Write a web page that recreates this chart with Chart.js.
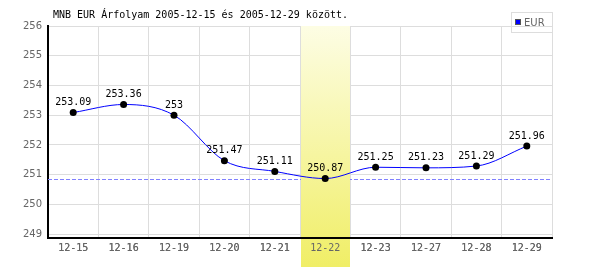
<!DOCTYPE html>
<html>
<head>
<meta charset="utf-8">
<script src="https://cdn.jsdelivr.net/npm/chart.js@4/dist/chart.umd.min.js"></script>
<style>
html,body{margin:0;padding:0;background:#fff;}
#wrap{width:600px;height:270px;}
</style>
</head>
<body>
<div id="wrap"><canvas id="c" width="600" height="270"></canvas></div>
<script>
const titleText = "MNB EUR Árfolyam 2005-12-15 és 2005-12-29 között.";
const seriesName = "EUR";
const categories = ["12-15","12-16","12-19","12-20","12-21","12-22","12-23","12-27","12-28","12-29"];
const eurValues = [253.09, 253.36, 253, 251.47, 251.11, 250.87, 251.25, 251.23, 251.29, 251.96];
const yTickValues = [249, 250, 251, 252, 253, 254, 255, 256];
const highlightCategory = "12-22";

const MONO = "'DejaVu Sans Mono', monospace";

const extras = {
  id: 'extras',
  beforeDatasetsDraw(chart) {
    const ctx = chart.ctx, a = chart.chartArea;
    const x = chart.scales.x, y = chart.scales.y;
    // dashed min line
    const minV = Math.min(...eurValues);
    const py = Math.round(y.getPixelForValue(minV)) + 0.5;
    ctx.save();
    ctx.strokeStyle = '#8080ff';
    ctx.lineWidth = 1;
    ctx.setLineDash([4, 2]);
    ctx.beginPath();
    ctx.moveTo(a.left, py);
    ctx.lineTo(a.right, py);
    ctx.stroke();
    ctx.restore();
    // highlight band
    const idx = categories.indexOf(highlightCategory);
    const step = (x.getPixelForValue(1) - x.getPixelForValue(0));
    const cx = x.getPixelForValue(idx);
    const l = Math.round(cx - step / 2) + 1, r = Math.round(cx + step / 2);
    const top = a.top, bottom = 267;
    ctx.save();
    const g = ctx.createLinearGradient(0, top, 0, bottom);
    g.addColorStop(0, '#fdfde4');
    g.addColorStop(1, '#f0ee66');
    ctx.fillStyle = g;
    ctx.fillRect(l, top, r - l, bottom - top);
    ctx.restore();
    // redraw x axis border and labels over band
    x.drawBorder();
    x.drawLabels(a);
  },
  afterDatasetsDraw(chart) {
    const ctx = chart.ctx;
    const meta = chart.getDatasetMeta(0);
    ctx.save();
    ctx.font = '10px ' + MONO;
    ctx.fillStyle = '#000';
    ctx.textAlign = 'center';
    ctx.textBaseline = 'bottom';
    meta.data.forEach((pt, i) => {
      ctx.fillText(String(eurValues[i]), pt.x, pt.y - 5);
    });
    ctx.restore();
  },
  afterDraw(chart) {
    const ctx = chart.ctx;
    ctx.save();
    // title
    ctx.font = '10px ' + MONO;
    ctx.fillStyle = '#000';
    ctx.textAlign = 'left';
    ctx.textBaseline = 'middle';
    ctx.fillText(titleText, 53, 15);
    // legend
    ctx.strokeStyle = '#dddddd';
    ctx.lineWidth = 1;
    ctx.strokeRect(511.5, 12.5, 41, 20);
    ctx.fillStyle = '#0000ff';
    ctx.fillRect(515, 19, 6, 6);
    ctx.strokeStyle = '#555';
    ctx.strokeRect(515.5, 19.5, 5, 5);
    ctx.fillStyle = '#666';
    ctx.font = '10px ' + "'DejaVu Sans', sans-serif";
    ctx.fillText(seriesName, 524, 23);
    ctx.restore();
  }
};

new Chart(document.getElementById('c'), {
  type: 'line',
  data: {
    labels: categories,
    datasets: [{
      label: seriesName,
      data: eurValues,
      borderColor: '#0000ff',
      borderWidth: 1,
      cubicInterpolationMode: 'monotone',
      pointBackgroundColor: '#000',
      pointBorderColor: '#000',
      pointRadius: 3.5,
      pointBorderWidth: 0,
      fill: false
    }]
  },
  options: {
    responsive: false,
    animation: false,
    events: [],
    layout: { padding: { left: 0, right: 48, top: 26, bottom: 0 } },
    plugins: { legend: { display: false }, title: { display: false }, tooltip: { enabled: false } },
    scales: {
      x: {
        type: 'category',
        offset: true,
        grid: { offset: true, color: '#dddddd', drawTicks: false, lineWidth: 1 },
        border: { color: '#000', width: 2 },
        ticks: { color: '#666', font: { family: MONO, size: 10 }, padding: 4, maxRotation: 0, autoSkip: false },
        afterFit(s) { s.height = 32; }
      },
      y: {
        min: 248.87,
        max: 256,
        afterBuildTicks(s) { s.ticks = yTickValues.map(v => ({ value: v })); },
        grid: { color: '#dddddd', drawTicks: false, lineWidth: 1 },
        border: { color: '#000', width: 2 },
        ticks: { color: '#666', font: { family: "'DejaVu Sans', sans-serif", size: 10 }, padding: 6 },
        afterFit(s) { s.width = 48; }
      }
    }
  },
  plugins: [extras]
});
</script>
</body>
</html>
